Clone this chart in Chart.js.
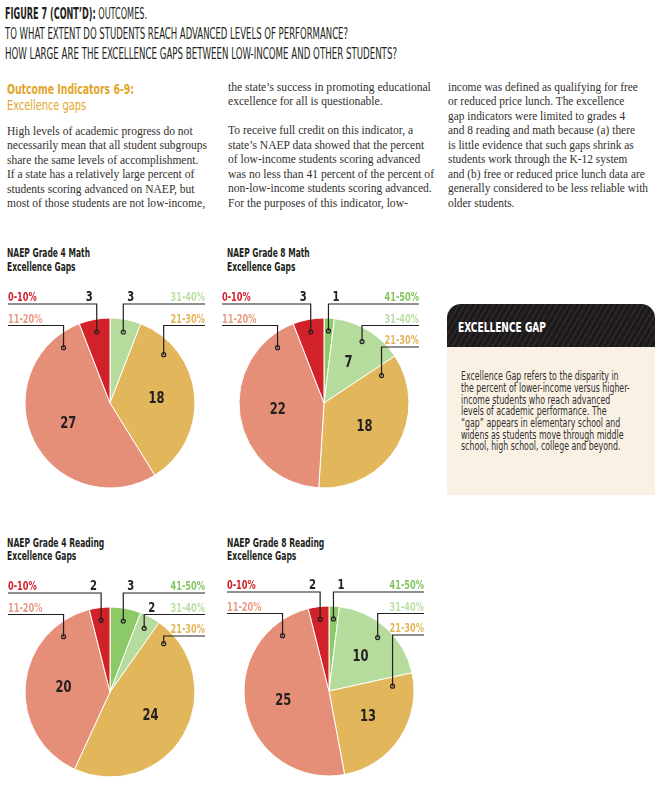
<!DOCTYPE html>
<html lang="en">
<head>
    <meta charset="UTF-8">
    <title>Figure 7 (cont'd): Outcomes - Excellence gaps</title>
    <script src="https://cdn.jsdelivr.net/npm/chart.js"></script>
    <style>
        html, body { margin: 0; padding: 0; background: #fff; }
        body { width: 669px; height: 792px; position: relative; overflow: hidden; }
        .t { position: absolute; white-space: nowrap; transform-origin: 0 0; display: inline-block; }
        .narrow { font-family: "Liberation Sans Narrow", "DejaVu Sans Condensed", "Arial Narrow", sans-serif; }
        .serif { font-family: "Liberation Serif", "DejaVu Serif", serif; font-size: 12px; line-height: 14.5px; color: #332f2e; }
        .head { font-size: 15px; line-height: 15px; color: #231f20; }
        .orange { color: #e2a62b; font-size: 14px; line-height: 14px; }
        .ctitle { font-size: 12px; line-height: 13.4px; font-weight: bold; color: #231f20; }
        canvas { position: absolute; }
        .box-head {
            position: absolute; left: 447px; top: 304px; width: 208px; height: 43px;
            border-radius: 14px 14px 0 0;
            background: repeating-linear-gradient(-60deg, #2b2728 0 2px, #1c191a 2px 5px);
        }
        .box-body { position: absolute; left: 447px; top: 347px; width: 208px; height: 148px; background: #f8f1e4; }
    </style>
</head>
<body>
    <div class="t narrow head" style="left:5px; top:7.3px" data-w="142"><b>FIGURE 7 (CONT’D):</b> OUTCOMES.</div>
    <div class="t narrow head" style="left:5px; top:26.6px" data-w="343">TO WHAT EXTENT DO STUDENTS REACH ADVANCED LEVELS OF PERFORMANCE?</div>
    <div class="t narrow head" style="left:5px; top:46.6px" data-w="392">HOW LARGE ARE THE EXCELLENCE GAPS BETWEEN LOW-INCOME AND OTHER STUDENTS?</div>

    <div class="t narrow orange" style="left:6.5px; top:82px; font-weight:bold" data-w="127">Outcome Indicators 6-9:</div>
    <div class="t narrow orange" style="left:6.5px; top:98px" data-w="79">Excellence gaps</div>

    <div class="t serif" style="left:7.3px; top:123.7px" data-w="200">High levels of academic progress do not<br>necessarily mean that all student subgroups<br>share the same levels of accomplishment.<br>If a state has a relatively large percent of<br>students scoring advanced on NAEP, but<br>most of those students are not low-income,</div>
    <div class="t serif" style="left:227.5px; top:79.7px" data-w="206">the state’s success in promoting educational<br>excellence for all is questionable.<br><br>To receive full credit on this indicator, a<br>state’s NAEP data showed that the percent<br>of low-income students scoring advanced<br>was no less than 41 percent of the percent of<br>non-low-income students scoring advanced.<br>For the purposes of this indicator, low-</div>
    <div class="t serif" style="left:447.5px; top:79.7px" data-w="200">income was defined as qualifying for free<br>or reduced price lunch. The excellence<br>gap indicators were limited to grades 4<br>and 8 reading and math because (a) there<br>is little evidence that such gaps shrink as<br>students work through the K-12 system<br>and (b) free or reduced price lunch data are<br>generally considered to be less reliable with<br>older students.</div>

    <div class="t narrow ctitle" style="left:6.5px; top:247.4px" data-w="83">NAEP Grade 4 Math<br>Excellence Gaps</div>
    <div class="t narrow ctitle" style="left:226.7px; top:247.4px" data-w="82.7">NAEP Grade 8 Math<br>Excellence Gaps</div>
    <div class="t narrow ctitle" style="left:6.5px; top:536.8px" data-w="97.3">NAEP Grade 4 Reading<br>Excellence Gaps</div>
    <div class="t narrow ctitle" style="left:226.7px; top:536.8px" data-w="97.3">NAEP Grade 8 Reading<br>Excellence Gaps</div>

    <div class="box-head"></div>
    <div class="box-body"></div>
    <div class="t narrow" style="left:458.3px; top:319.8px; font-size:14px; line-height:14px; font-weight:bold; color:#fff" data-w="88">EXCELLENCE GAP</div>
    <div class="t narrow" style="left:460.7px; top:371.4px; font-size:11.8px; line-height:11.67px; color:#332f30" data-w="168.7">Excellence Gap refers to the disparity in<br>the percent of lower-income versus higher-<br>income students who reach advanced<br>levels of academic performance. The<br>“gap” appears in elementary school and<br>widens as students move through middle<br>school, high school, college and beyond.</div>

    <canvas id="math4" width="220" height="230" style="left:0px; top:288px"></canvas>
    <canvas id="math8" width="220" height="230" style="left:214px; top:288px"></canvas>
    <canvas id="reading4" width="220" height="230" style="left:0px; top:577px"></canvas>
    <canvas id="reading8" width="220" height="230" style="left:219px; top:576px"></canvas>

    <script>
        // number of states in each excellence-gap band
        const bands = ['0-10%', '11-20%', '21-30%', '31-40%', '41-50%'];
        const math4 = [3, 27, 18, 3, 0];
        const math8 = [3, 22, 18, 7, 1];
        const reading4 = [2, 20, 24, 2, 3];
        const reading8 = [2, 25, 13, 10, 1];

        const sliceColors = ['#d12229', '#e58f78', '#e2b65a', '#b6dc9d', '#8cc967'];
        const labelColors = ['#d3202b', '#ea9a82', '#e4b45a', '#bcdfa6', '#86c560'];
        const FONT = '"Liberation Sans Narrow", "DejaVu Sans Condensed", "Arial Narrow", sans-serif';
        const INK = '#231f20';

        // squeeze condensed text blocks to the reference widths
        document.querySelectorAll('[data-w]').forEach(el => {
            const w = el.getBoundingClientRect().width;
            el.style.transform = 'scaleX(' + (+el.dataset.w / w) + ')';
        });

        const toDeg = a => (a + Math.PI / 2) * 180 / Math.PI;

        // canvas text squeezed horizontally, the condensed face is not installed
        function narrowText(ctx, text, x, y, sx) {
            ctx.save();
            ctx.translate(x, y);
            ctx.scale(sx, 1);
            ctx.fillText(text, 0, 0);
            ctx.restore();
        }

        // leader lines, band labels and counts
        const calloutPlugin = {
            id: 'callouts',
            afterDatasetsDraw(chart) {
                const ctx = chart.ctx;
                const ds = chart.data.datasets[0];
                const left = [], right = [];
                chart.getDatasetMeta(0).data.forEach((arc, i) => {
                    const p = arc.getProps(['x', 'y', 'startAngle', 'endAngle', 'outerRadius'], true);
                    let s = toDeg(p.startAngle), e = toDeg(p.endAngle), mid = (s + e) / 2;
                    const onLeft = mid > 180;
                    if (onLeft) { s -= 360; e -= 360; mid -= 360; }
                    const m = Math.min(8, (e - s) / 2);
                    let a = Math.min(mid, Math.max(s + m, 48));
                    a = Math.max(a, Math.min(e - m, -40));
                    const rr = p.outerRadius * (Math.abs(a) > 55 ? 0.75 : 0.85);
                    const rad = a * Math.PI / 180;
                    const item = {
                        value: ds.data[i], label: chart.data.labels[i], color: ds.labelColors[i],
                        a, p, mid,
                        dx: p.x + rr * Math.sin(rad), dy: p.y - rr * Math.cos(rad)
                    };
                    (onLeft ? left : right).push(item);
                });
                left.sort((u, v) => v.a - u.a);
                right.sort((u, v) => u.a - v.a);

                ctx.save();
                const draw = (item, k, onLeft) => {
                    const p = item.p;
                    const rowY = p.y - 99 + 21.5 * k;
                    const edge = onLeft ? p.x - 102 : p.x + 95;
                    ctx.strokeStyle = INK;
                    ctx.lineWidth = 1.2;
                    ctx.beginPath();
                    ctx.moveTo(edge, rowY);
                    ctx.lineTo(item.dx, rowY);
                    ctx.lineTo(item.dx, item.dy);
                    ctx.stroke();
                    ctx.beginPath();
                    ctx.arc(item.dx, item.dy, 2, 0, Math.PI * 2);
                    ctx.stroke();

                    ctx.textBaseline = 'alphabetic';
                    ctx.font = '600 12px ' + FONT;
                    ctx.fillStyle = item.color;
                    ctx.textAlign = onLeft ? 'left' : 'right';
                    narrowText(ctx, item.label, edge, rowY - 3, 0.76);

                    ctx.fillStyle = INK;
                    if (item.value < 5) {
                        ctx.font = 'bold 14px ' + FONT;
                        ctx.textAlign = onLeft ? 'right' : 'left';
                        narrowText(ctx, String(item.value), item.dx + (onLeft ? -4 : 4), rowY - 3, 0.8);
                    } else {
                        const rad = item.mid * Math.PI / 180;
                        const r = p.outerRadius * 0.55;
                        ctx.font = 'bold 16px ' + FONT;
                        ctx.textAlign = 'center';
                        ctx.textBaseline = 'middle';
                        narrowText(ctx, String(item.value), p.x + r * Math.sin(rad), p.y - r * Math.cos(rad), 0.8);
                    }
                };
                left.forEach((it, k) => draw(it, k, true));
                right.forEach((it, k) => draw(it, k, false));
                ctx.restore();
            }
        };

        // slices run clockwise from the top: highest band first
        function makePie(id, values) {
            const order = [4, 3, 2, 1, 0].filter(i => values[i] > 0);
            return new Chart(document.getElementById(id), {
                type: 'pie',
                data: {
                    labels: order.map(i => bands[i]),
                    datasets: [{
                        data: order.map(i => values[i]),
                        backgroundColor: order.map(i => sliceColors[i]),
                        labelColors: order.map(i => labelColors[i]),
                        borderColor: '#ffffff',
                        borderWidth: 1
                    }]
                },
                options: {
                    responsive: false,
                    animation: false,
                    radius: 85,
                    layout: { padding: 0 },
                    plugins: { legend: { display: false }, tooltip: { enabled: false } }
                },
                plugins: [calloutPlugin]
            });
        }

        makePie('math4', math4);
        makePie('math8', math8);
        makePie('reading4', reading4);
        makePie('reading8', reading8);
    </script>
</body>
</html>
